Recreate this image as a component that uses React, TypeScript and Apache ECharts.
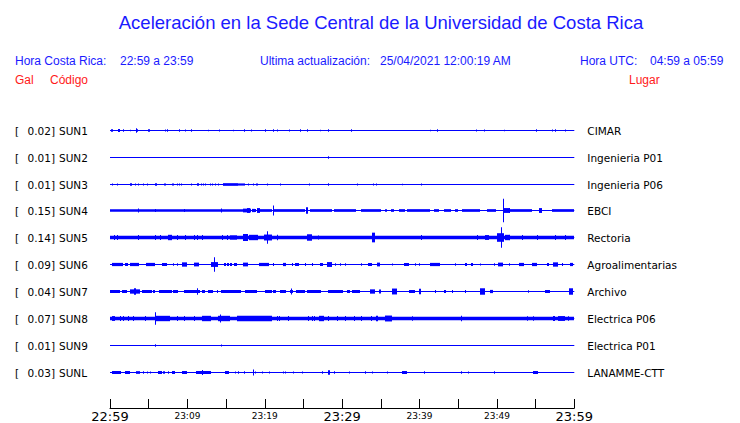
import React, { useEffect, useRef } from 'react';
import * as echarts from 'echarts';

// ---- data ----
const codes = ['SUN1', 'SUN2', 'SUN3', 'SUN4', 'SUN5', 'SUN6', 'SUN7', 'SUN8', 'SUN9', 'SUNL'];
const places = ['CIMAR', 'Ingenieria P01', 'Ingenieria P06', 'EBCI', 'Rectoria', 'Agroalimentarias', 'Archivo', 'Electrica P06', 'Electrica P01', 'LANAMME-CTT'];
const peakGal = ['0.02', '0.01', '0.01', '0.15', '0.14', '0.09', '0.04', '0.07', '0.01', '0.03'];

// minutes since 22:59 -> label (large / small)
const majorTicks: [number, string][] = [[0, '22:59'], [30, '23:29'], [60, '23:59']];
const minorTicks: [number, string][] = [[10, '23:09'], [20, '23:19'], [40, '23:39'], [50, '23:49']];

// envelope segments per trace: [minute, halfAmplitude] or [startMinute, endMinute, halfAmplitude]
// amplitude in units of the trace spacing
const sun1 = [[0.13, .05], [0.3, .05], [1.0, 1.2, .06], [1.72, .05], [2.59, .03], [3.32, .08], [3.53, .05], [4.9, 5.1, .05], [7.16, .04], [7.41, .05], [8.97, .05], [9.74, .04], [10.43, .05], [12.72, .03], [14.14, .04], [15.95, .03], [17.37, .05], [18.28, .04], [20.09, .05], [21.12, .05], [21.64, .04], [23.19, .04], [24.6, 24.7, .05], [25.5, 25.65, .05], [27.2, .03], [28.2, 28.3, .05], [31.1, 31.2, .05], [41.29, .03], [42.2, .05], [47.24, .04], [48.28, .04], [50.86, .03], [55.0, 55.1, .05], [57.16, .04], [57.5, 57.6, .05], [58.75, .04]];
const sun2 = [[28.23, .05]];
const sun3 = [[0.3, .04], [0.86, .04], [2.6, 2.9, .05], [3.2, .04], [3.66, .04], [4.31, .04], [4.74, .04], [5.8, 6.1, .05], [6.94, .04], [7.11, .04], [7.97, .04], [8.19, .04], [8.62, .04], [8.92, .04], [9.18, .04], [10.47, .04], [11.3, 11.5, .05], [11.7, .04], [12.0, .04], [12.3, .04], [12.93, .04], [13.23, .04], [13.58, .04], [14.0, .04], [14.65, 16.6, .05], [16.6, 17.5, .04], [17.89, .04], [18.53, .04], [18.9, 19.2, .04], [20.26, .04], [21.98, .04], [25.78, .04], [28.2, 28.3, .05], [31.98, .04], [34.05, .04], [34.35, .04], [37.67, .03], [40.13, .04]];
const sun4 = [[0, 17.2, .05], [3.66, .07], [5.8, .06], [9.5, .06], [14.4, .07], [17.2, 18.2, .07], [17.7, 18.1, .09], [18.4, 18.9, .06], [19.0, 19.4, .09], [19.4, 21.0, .05], [21.1, .19], [21.2, 25.2, .05], [25.3, 25.5, .12], [25.9, 28.7, .05], [28.9, 31.7, .05], [32.5, 35.1, .05], [35.6, 35.9, .05], [36.3, 36.7, .05], [37.3, 38.1, .05], [38.4, 41.4, .05], [41.9, 42.5, .05], [43.1, 44.0, .05], [44.6, 45.0, .05], [45.5, 47.8, .05], [48.7, 49.8, .05], [50.8, .44], [50.9, 51.7, .09], [51.7, 54.5, .05], [55.4, 55.8, .09], [57.1, 60, .05]];
const sun5 = [[0, 60, .065], [0.56, .09], [0.86, .09], [3.66, .09], [5.82, .09], [6.47, .09], [7.5, 8.0, .1], [8.62, .09], [9.7, .09], [10.8, .09], [11.2, .09], [11.85, .09], [14.44, .09], [15.08, .09], [15.5, 16.4, .08], [17.2, 17.9, .13], [18.0, 19.1, .1], [19.9, 20.9, .11], [20.25, .23], [21.55, .1], [25.5, 26.1, .12], [26.9, .07], [33.8, 34.2, .18], [40.13, .09], [47.4, .09], [48.5, 49.0, .09], [50.0, 50.9, .16], [50.5, .38], [51.0, 51.7, .1], [53.2, .09], [55.2, .09], [57.5, .09], [58.8, .09]];
const sun6 = [[0.3, 1.7, .06], [1.9, 2.3, .055], [2.6, 3.7, .06], [4.7, 5.8, .06], [6.7, 7.3, .055], [8.2, .05], [8.6, .05], [9.3, 9.9, .08], [10.9, 11.6, .07], [13.0, 13.9, .09], [13.43, .27], [14.7, 14.9, .055], [15.1, 15.3, .055], [15.5, 15.7, .055], [16.0, 16.4, .055], [17.2, 17.9, .07], [19.2, 20.5, .06], [21.0, .06], [22.4, 22.8, .06], [23.5, 23.6, .055], [23.9, 24.4, .055], [25.2, .06], [26.1, .06], [27.2, 27.6, .055], [28.1, 28.7, .09], [29.1, .05], [29.7, .05], [30.4, .05], [32.5, .05], [33.3, 33.8, .055], [34.5, 34.9, .07], [36.4, .04], [38.0, 38.6, .055], [39.4, .05], [39.9, .05], [41.4, 42.7, .06], [44.6, .05], [45.9, 46.2, .055], [46.6, 46.8, .055], [47.8, .04], [49.6, .05], [50.2, 50.9, .07], [51.5, .05], [52.8, 53.4, .06], [54.5, 55.2, .06], [56.5, 56.7, .06], [57.3, 58.0, .08], [58.4, .06], [59.5, 59.9, .06]];
const sun7 = [[0, 1.3, .055], [1.5, 2.2, .055], [2.6, 3.9, .08], [3.1, 3.3, .12], [4.1, 5.4, .055], [5.6, 5.8, .055], [6.3, 8.0, .055], [8.2, 8.8, .055], [9.5, 11.6, .055], [11.2, .12], [11.85, 12.3, .055], [12.7, 13.4, .055], [13.8, .06], [14.4, 17.0, .055], [17.5, 19.0, .055], [20.0, 20.9, .055], [21.1, 21.5, .055], [22.0, 22.8, .055], [23.3, 23.7, .055], [23.4, .11], [24.1, 25.2, .055], [25.4, 27.2, .055], [28.2, 30.2, .055], [30.6, 31.0, .055], [31.3, 32.3, .055], [33.6, 34.3, .08], [34.8, 35.1, .07], [36.4, 37.1, .11], [38.6, 39.4, .055], [39.9, 40.2, .1], [42.0, .06], [43.1, 43.4, .06], [44.2, .06], [45.9, .06], [47.8, 48.4, .12], [49.1, 49.5, .06], [54.0, .05], [56.2, 56.8, .055], [59.3, 59.8, .12]];
const sun8 = [[0, 60, .062], [0.2, 0.6, .09], [1.3, .09], [1.72, .09], [2.37, .09], [3.0, .09], [4.5, .09], [5.8, 7.8, .1], [5.85, .23], [8.6, .09], [9.5, .09], [10.8, .09], [11.9, 13.1, .1], [14.0, 15.5, .1], [14.25, .15], [16.4, 20.9, .1], [21.55, .09], [21.8, .09], [23.0, .09], [25.6, .09], [26.1, .09], [26.3, .09], [27.0, 27.6, .1], [28.2, .09], [29.3, .09], [30.4, .09], [31.5, .09], [32.5, .09], [33.7, .09], [34.4, 34.7, .1], [35.6, 36.5, .11], [39.0, .08], [45.4, .1], [53.9, .08], [54.7, .08], [57.3, 57.5, .09], [57.9, 58.8, .09], [59.2, .08]];
const sun9 = [[5.86, .05], [14.3, .04]];
const sunl = [[0.3, 1.4, .055], [1.9, 2.6, .055], [3.4, 3.9, .05], [4.3, .05], [4.74, .04], [5.17, .04], [6.2, 6.7, .055], [6.9, 7.2, .05], [7.45, .05], [8.0, 8.4, .055], [9.3, 10.0, .055], [11.1, 13.1, .055], [11.95, .09], [14.9, 15.4, .055], [16.2, .04], [16.5, .05], [17.37, .05], [18.5, .11], [18.75, .04], [19.6, .04], [20.56, .04], [22.3, .04], [22.6, .04], [23.7, .04], [24.8, .04], [27.4, .05], [28.2, 28.5, .08], [29.0, .05], [30.9, .04], [32.9, .05], [33.8, .04], [35.8, .04], [37.7, 38.3, .055], [40.6, .05], [45.4, .05], [46.3, .04], [49.6, .05], [54.7, 55.3, .055]];

const traces = [sun1, sun2, sun3, sun4, sun5, sun6, sun7, sun8, sun9, sunl];

const BLUE = '#0000ff';
const TEXT_BLUE = '#1a1aff';
const RED = '#ff1a1a';

export default function App() {
  const ref = useRef<HTMLDivElement>(null);
  useEffect(() => {
    if (!ref.current) return;
    const chart = echarts.init(ref.current, undefined, { renderer: 'svg' });

    const segData: number[][] = [];
    traces.forEach((tr, row) => {
      tr.forEach((s) => {
        if (s.length === 2) segData.push([s[0], s[0], row, s[1]]);
        else segData.push([s[0], s[1], row, s[2]]);
      });
    });
    const rowData = codes.map((_, i) => [i]);

    const labelMap: Record<number, string> = {};
    majorTicks.forEach(([m, l]) => (labelMap[m] = '{big|' + l + '}'));
    minorTicks.forEach(([m, l]) => (labelMap[m] = '{small|' + l + '}'));

    const txt = (text: string, x: number, y: number, fill: string, size: number, align = 'left', family = '"Liberation Sans", Arial, sans-serif') => ({
      type: 'text',
      x,
      y,
      style: { text, fill, fontSize: size, fontFamily: family, textAlign: align, textVerticalAlign: 'middle' },
    });

    const option: any = {
      animation: false,
      backgroundColor: '#ffffff',
      grid: { left: 110, right: 165.7, top: 116.8, bottom: 14, containLabel: false },
      xAxis: {
        type: 'value',
        min: 0,
        max: 60,
        interval: 5,
        axisLine: { show: true, onZero: false, lineStyle: { color: '#000', width: 1 } },
        axisTick: { show: true, inside: true, length: 9, lineStyle: { color: '#000', width: 1 } },
        splitLine: { show: false },
        axisLabel: {
          margin: 1,
          formatter: (v: number) => labelMap[Math.round(v)] || '',
          rich: {
            big: { fontSize: 13, fontFamily: '"DejaVu Sans", sans-serif', color: '#000', lineHeight: 15 },
            small: { fontSize: 9, fontFamily: '"DejaVu Sans", sans-serif', color: '#000', lineHeight: 13 },
          },
        },
      },
      yAxis: {
        type: 'value',
        min: -0.5,
        max: 10.32,
        inverse: true,
        show: false,
        splitLine: { show: false },
      },
      graphic: [
        txt('Aceleración en la Sede Central de la Universidad de Costa Rica', 381, 22, TEXT_BLUE, 18.5, 'center'),
        txt('Hora Costa Rica:', 15, 61, TEXT_BLUE, 12),
        txt('22:59 a 23:59', 120, 61, TEXT_BLUE, 12),
        txt('Ultima actualización:', 260, 61, TEXT_BLUE, 12),
        txt('25/04/2021 12:00:19 AM', 380, 61, TEXT_BLUE, 12),
        txt('Hora UTC:', 580, 61, TEXT_BLUE, 12),
        txt('04:59 a 05:59', 650, 61, TEXT_BLUE, 12),
        txt('Gal', 15, 80, RED, 12),
        txt('Código', 50, 80, RED, 12),
        txt('Lugar', 629, 80, RED, 12),
      ],
      series: [
        {
          type: 'custom',
          data: rowData,
          clip: false,
          renderItem: (params: any, api: any) => {
            const row = api.value(0);
            const p0 = api.coord([0, row]);
            const p1 = api.coord([60, row]);
            const y = Math.floor(p0[1]);
            const font = '"DejaVu Sans", sans-serif';
            const ty = p0[1] + 0.5;
            return {
              type: 'group',
              children: [
                { type: 'rect', shape: { x: p0[0], y, width: p1[0] - p0[0], height: 1 }, style: { fill: BLUE } },
                { type: 'text', x: 15, y: ty, style: { text: '[', fontSize: 10.5, fontFamily: font, fill: '#000', textVerticalAlign: 'middle' } },
                { type: 'text', x: 27.5, y: ty, style: { text: peakGal[row] + ']', fontSize: 10.5, fontFamily: font, fill: '#000', textVerticalAlign: 'middle' } },
                { type: 'text', x: 59, y: ty, style: { text: codes[row], fontSize: 10.5, fontFamily: font, fill: '#000', textVerticalAlign: 'middle' } },
                { type: 'text', x: p1[0] + 13, y: ty, style: { text: places[row], fontSize: 10.5, fontFamily: font, fill: '#000', textVerticalAlign: 'middle' } },
              ],
            };
          },
        },
        {
          type: 'custom',
          data: segData,
          clip: false,
          renderItem: (params: any, api: any) => {
            const t0 = api.value(0);
            const t1 = api.value(1);
            const row = api.value(2);
            const a = api.value(3);
            const pa = api.coord([t0, row - a]);
            const pb = api.coord([t1, row + a]);
            const x = Math.round(Math.min(pa[0], pb[0]));
            const w = Math.max(1, Math.round(Math.abs(pb[0] - pa[0])));
            const yc = Math.floor(api.coord([t0, row])[1]) + 0.5;
            const half = Math.max(0.5, Math.abs(pb[1] - pa[1]) / 2);
            return { type: 'rect', shape: { x, y: yc - half, width: w, height: half * 2 }, style: { fill: BLUE } };
          },
        },
      ],
    };
    chart.setOption(option);
    return () => chart.dispose();
  }, []);
  return <div ref={ref} style={{ position: 'fixed', left: 0, top: 0, width: 740, height: 423, background: '#fff' }} />;
}
